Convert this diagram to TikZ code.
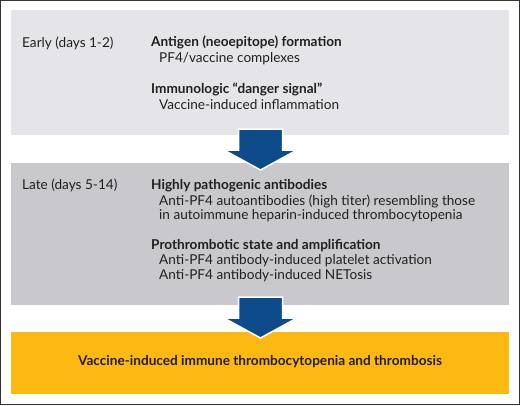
\documentclass[tikz,border=0pt]{standalone}
\usepackage{fontspec}
\setmainfont{Lato}
\definecolor{boxA}{HTML}{E5E5E9}
\definecolor{boxB}{HTML}{C9C8CD}
\definecolor{boxC}{HTML}{FCB912}
\definecolor{arrowblue}{HTML}{0D4B8A}
\definecolor{frame}{HTML}{333333}
\definecolor{txt}{HTML}{231F20}
\tikzset{
  panel/.style={fill=#1, draw=none},
  lbl/.style={anchor=mid west, inner sep=0pt, font=\fontsize{13.6}{16}\selectfont, text=txt},
  head/.style={lbl, font=\fontsize{13.6}{16}\selectfont\bfseries},
  blockarrow/.style={fill=arrowblue, draw=white, line width=1.5pt, line join=miter}
}
\begin{document}
\begin{tikzpicture}[x=1pt,y=-1pt]
\useasboundingbox (0,0) rectangle (520,405);
\draw[frame, line width=1.2pt] (0.6,0.6) rectangle (519.4,404.4);
% panels
\fill[panel=boxA] (11,10) rectangle (509,135);
\fill[panel=boxB] (11,163) rectangle (509,305);
\fill[panel=boxC] (11,332) rectangle (509,394);
\coordinate (p1) at (260.5,135);
\coordinate (p2) at (260.5,305);
% arrows
\draw[blockarrow] ([shift={(-22,-6)}]p1) -- ([shift={(22,-6)}]p1) -- ([shift={(22,15)}]p1)
  -- ([shift={(36.5,15)}]p1) -- ([shift={(0,35)}]p1) -- ([shift={(-36.5,15)}]p1)
  -- ([shift={(-22,15)}]p1) -- cycle;
\draw[blockarrow] ([shift={(-22,-8)}]p2) -- ([shift={(22,-8)}]p2) -- ([shift={(22,13)}]p2)
  -- ([shift={(36.5,13)}]p2) -- ([shift={(0,33)}]p2) -- ([shift={(-36.5,13)}]p2)
  -- ([shift={(-22,13)}]p2) -- cycle;
% texts box 1
\node[lbl] (early) at (22,45) {Early (days 1-2)};
\node[head] (h1) at (151,44) {Antigen (neoepitope) formation};
\node[lbl] (t1) at (159,60) {PF4/vaccine complexes};
\node[head] (h2) at (151,91) {Immunologic “danger signal”};
\node[lbl] (t2) at (159,107) {Vaccine-induced inflammation};
% texts box 2
\node[lbl] (late) at (22,187) {Late (days 5-14)};
\node[head] (h3) at (151,187) {Highly pathogenic antibodies};
\node[lbl] (t3) at (159,203) {Anti-PF4 autoantibodies (high titer) resembling those};
\node[lbl] (t4) at (159,217) {in autoimmune heparin-induced thrombocytopenia};
\node[head] (h4) at (151,247) {Prothrombotic state and amplification};
\node[lbl] (t5) at (159,262) {Anti-PF4 antibody-induced platelet activation};
\node[lbl] (t6) at (159,277) {Anti-PF4 antibody-induced NETosis};
% box 3
\node[head, anchor=mid] (vitt) at (260,363) {Vaccine-induced immune thrombocytopenia and thrombosis};
\end{tikzpicture}
\end{document}
